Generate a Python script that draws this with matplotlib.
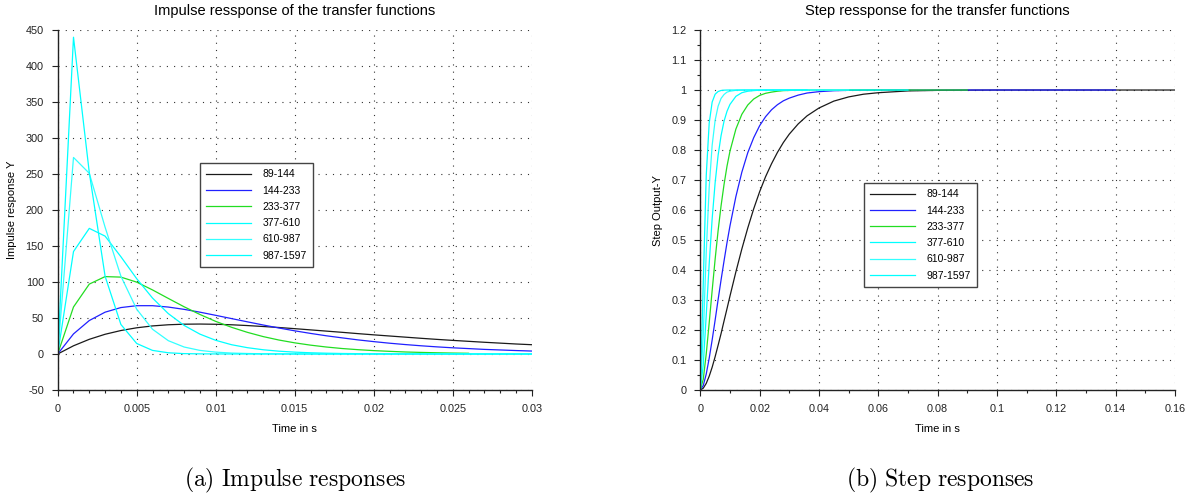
import numpy as np
import matplotlib
matplotlib.use("Agg")
import matplotlib.pyplot as plt
from matplotlib.ticker import MultipleLocator, FuncFormatter

# band labels (Hz)
bands = ["89-144", "144-233", "233-377", "377-610", "610-987", "987-1597"]
colors = ["#1a1a1a", "#2020ff", "#22dd22", "#00ffff", "#33ffff", "#00ffff"]

# impulse responses, sampled every 1 ms
t_imp = [0.000, 0.001, 0.002, 0.003, 0.004, 0.005, 0.006, 0.007, 0.008, 0.009,
         0.010, 0.011, 0.012, 0.013, 0.014, 0.015, 0.016, 0.017, 0.018, 0.019,
         0.020, 0.021, 0.022, 0.023, 0.024, 0.025, 0.026, 0.027, 0.028, 0.029, 0.030]
imp_89 = [0, 11.4, 20.4, 27.4, 32.6, 36.4, 39.0, 40.6, 41.4, 41.6,
          41.3, 40.6, 39.5, 38.2, 36.8, 35.2, 33.5, 31.8, 30.1, 28.3,
          26.6, 25.0, 23.4, 21.8, 20.3, 18.9, 17.6, 16.3, 15.1, 13.9, 12.9]
imp_144 = [0, 27.9, 46.5, 58.1, 64.5, 67.1, 67.1, 65.2, 62.0, 58.1,
           53.7, 49.2, 44.7, 40.3, 36.1, 32.2, 28.6, 25.3, 22.4, 19.6,
           17.2, 15.0, 13.1, 11.4, 9.9, 8.6, 7.5, 6.4, 5.6, 4.8, 4.1]
imp_233 = [0, 65.3, 97.1, 107.5, 106.8, 99.8, 89.0, 77.2, 65.6, 54.9,
           45.3, 37.1, 30.1, 24.2, 19.4, 15.5, 12.3, 9.7, 7.6, 6.0,
           4.7, 3.7, 2.8, 2.2, 1.7, 1.3, 1.0]
imp_377 = [0, 142.3, 174.5, 163.7, 135.1, 104.6, 77.7, 56.1, 39.7, 27.6,
           19.0, 12.9, 8.8, 5.9, 3.9, 2.6, 1.7, 1.1, 0.7, 0.5,
           0.3, 0.2, 0.1, 0.1, 0.05, 0.03, 0.02, 0.01, 0, 0, 0]
imp_610 = [0, 273.0, 251.0, 176.1, 108.1, 62.2, 34.4, 18.5, 9.7, 5.0,
           2.6, 1.3, 0.7, 0.3, 0.2, 0.1, 0.05, 0, 0, 0,
           0, 0, 0, 0, 0, 0, 0, 0, 0, 0, 0]
imp_987 = [0, 440.0, 252.0, 108.0, 41.0, 14.6, 5.0, 1.7, 0.5, 0.2,
           0.1, 0, 0, 0, 0, 0, 0, 0, 0, 0,
           0, 0, 0, 0, 0, 0, 0, 0, 0, 0, 0]
impulse = [imp_89, imp_144, imp_233, imp_377, imp_610, imp_987]

# step responses
t_step = [0.000, 0.001, 0.002, 0.003, 0.004, 0.005, 0.006, 0.007, 0.008, 0.009,
          0.010, 0.012, 0.014, 0.016, 0.018, 0.020, 0.022, 0.024, 0.026, 0.028,
          0.030, 0.033, 0.036, 0.040, 0.045, 0.050, 0.055, 0.060, 0.070, 0.080,
          0.090, 0.100, 0.120, 0.140, 0.160]
step_89 = [0, 0.006, 0.022, 0.046, 0.076, 0.111, 0.149, 0.188, 0.230, 0.271,
           0.313, 0.394, 0.470, 0.540, 0.604, 0.661, 0.711, 0.754, 0.792, 0.825,
           0.853, 0.887, 0.914, 0.940, 0.963, 0.977, 0.986, 0.991, 0.997, 0.9988,
           0.9996, 0.9999, 1.0, 1.0, 1.0]
step_144 = [0, 0.015, 0.053, 0.106, 0.167, 0.233, 0.301, 0.367, 0.430, 0.491,
            0.547, 0.645, 0.726, 0.791, 0.841, 0.881, 0.911, 0.934, 0.951, 0.964,
            0.973, 0.983, 0.990, 0.9945, 0.9976, 0.9989, 0.9995, 0.9998, 1.0, 1.0,
            1.0, 1.0, 1.0, 1.0]
step_233 = [0, 0.036, 0.120, 0.224, 0.332, 0.436, 0.531, 0.614, 0.685, 0.746,
            0.796, 0.870, 0.919, 0.950, 0.970, 0.982, 0.989, 0.993, 0.996, 0.998,
            0.9986, 0.9994, 0.9998, 0.9999, 1.0, 1.0, 1.0, 1.0, 1.0, 1.0,
            1.0]
step_377 = [0, 0.084, 0.249, 0.421, 0.571, 0.691, 0.782, 0.848, 0.896, 0.929,
            0.952, 0.979, 0.991, 0.996, 0.998, 0.9993, 0.9997, 0.9999, 1.0, 1.0,
            1.0, 1.0, 1.0, 1.0, 1.0, 1.0, 1.0, 1.0, 1.0]
step_610 = [0, 0.183, 0.459, 0.676, 0.816, 0.899, 0.946, 0.972, 0.985, 0.993,
            0.996, 0.999, 0.9998, 1.0, 1.0, 1.0, 1.0, 1.0, 1.0, 1.0,
            1.0, 1.0, 1.0, 1.0, 1.0, 1.0]
step_987 = [0, 0.357, 0.715, 0.890, 0.960, 0.986, 0.995, 0.9985, 0.9995, 0.9999,
            1.0, 1.0, 1.0, 1.0, 1.0, 1.0, 1.0, 1.0, 1.0, 1.0,
            1.0, 1.0, 1.0]
steps = [step_89, step_144, step_233, step_377, step_610, step_987]

plt.rcParams['font.family'] = ['Liberation Sans', 'DejaVu Sans']
plt.rcParams['mathtext.fontset'] = 'cm'

fig = plt.figure(figsize=(11.92, 4.97), dpi=100)
ax1 = fig.add_axes([0.0484, 0.2153, 0.3977, 0.7243])
ax2 = fig.add_axes([0.5875, 0.2153, 0.3982, 0.7243])

fmt = FuncFormatter(lambda v, p: "%g" % round(v, 6))


def style_axes(ax):
    for s in ['top', 'right']:
        ax.spines[s].set_visible(False)
    for s in ['left', 'bottom']:
        ax.spines[s].set_color('#222222')
        ax.spines[s].set_linewidth(1.0)
    ax.tick_params(which='major', direction='out', length=4, width=0.8,
                   labelsize=7.8, colors='#222222', pad=6)
    ax.tick_params(which='minor', direction='out', length=2.5, width=0.8,
                   colors='#222222')
    ax.xaxis.set_major_formatter(fmt)
    ax.yaxis.set_major_formatter(fmt)
    ax.grid(True, which='major', color='#333333', linestyle=(0, (1, 5.5)),
            linewidth=0.8)
    ax.set_axisbelow(True)


def add_legend(ax, anchor):
    leg = ax.legend(loc='upper left', bbox_to_anchor=anchor, borderaxespad=0,
                    fontsize=7.5, handlelength=4.3, labelspacing=0.6, fancybox=False,
                    framealpha=1, edgecolor='#444444', borderpad=0.6,
                    handletextpad=1.1)
    leg.get_frame().set_linewidth(1.0)


# impulse
for y, lab, c in zip(impulse, bands, colors):
    ax1.plot(t_imp[:len(y)], y, color=c, lw=0.9, label=lab)
ax1.set_xlim(0, 0.03)
ax1.set_ylim(-50, 450)
ax1.xaxis.set_major_locator(MultipleLocator(0.005))
ax1.xaxis.set_minor_locator(MultipleLocator(0.001))
ax1.yaxis.set_major_locator(MultipleLocator(50))
style_axes(ax1)
ax1.set_title("Impulse ressponse of the transfer functions", fontsize=10.5, pad=11)
ax1.set_xlabel("Time in s", fontsize=8, labelpad=7)
ax1.set_ylabel("Impulse response Y", fontsize=8, labelpad=6)
add_legend(ax1, (0.30, 0.63))

# step
for y, lab, c in zip(steps, bands, colors):
    ax2.plot(t_step[:len(y)], y, color=c, lw=0.9, label=lab)
ax2.set_xlim(0, 0.16)
ax2.set_ylim(0, 1.2)
ax2.xaxis.set_major_locator(MultipleLocator(0.02))
ax2.xaxis.set_minor_locator(MultipleLocator(0.01))
ax2.yaxis.set_major_locator(MultipleLocator(0.1))
ax2.yaxis.set_minor_locator(MultipleLocator(0.05))
style_axes(ax2)
ax2.set_title("Step ressponse for the transfer functions", fontsize=10.5, pad=11)
ax2.set_xlabel("Time in s", fontsize=8, labelpad=7)
ax2.set_ylabel("Step Output-Y", fontsize=8, labelpad=6)
add_legend(ax2, (0.345, 0.575))

fig.text(0.2475, 0.022, r"$\mathrm{(a)\ Impulse\ responses}$", ha='center', fontsize=17)
fig.text(0.789, 0.022, r"$\mathrm{(b)\ Step\ responses}$", ha='center', fontsize=17)

fig.savefig("out.png", dpi=100)
